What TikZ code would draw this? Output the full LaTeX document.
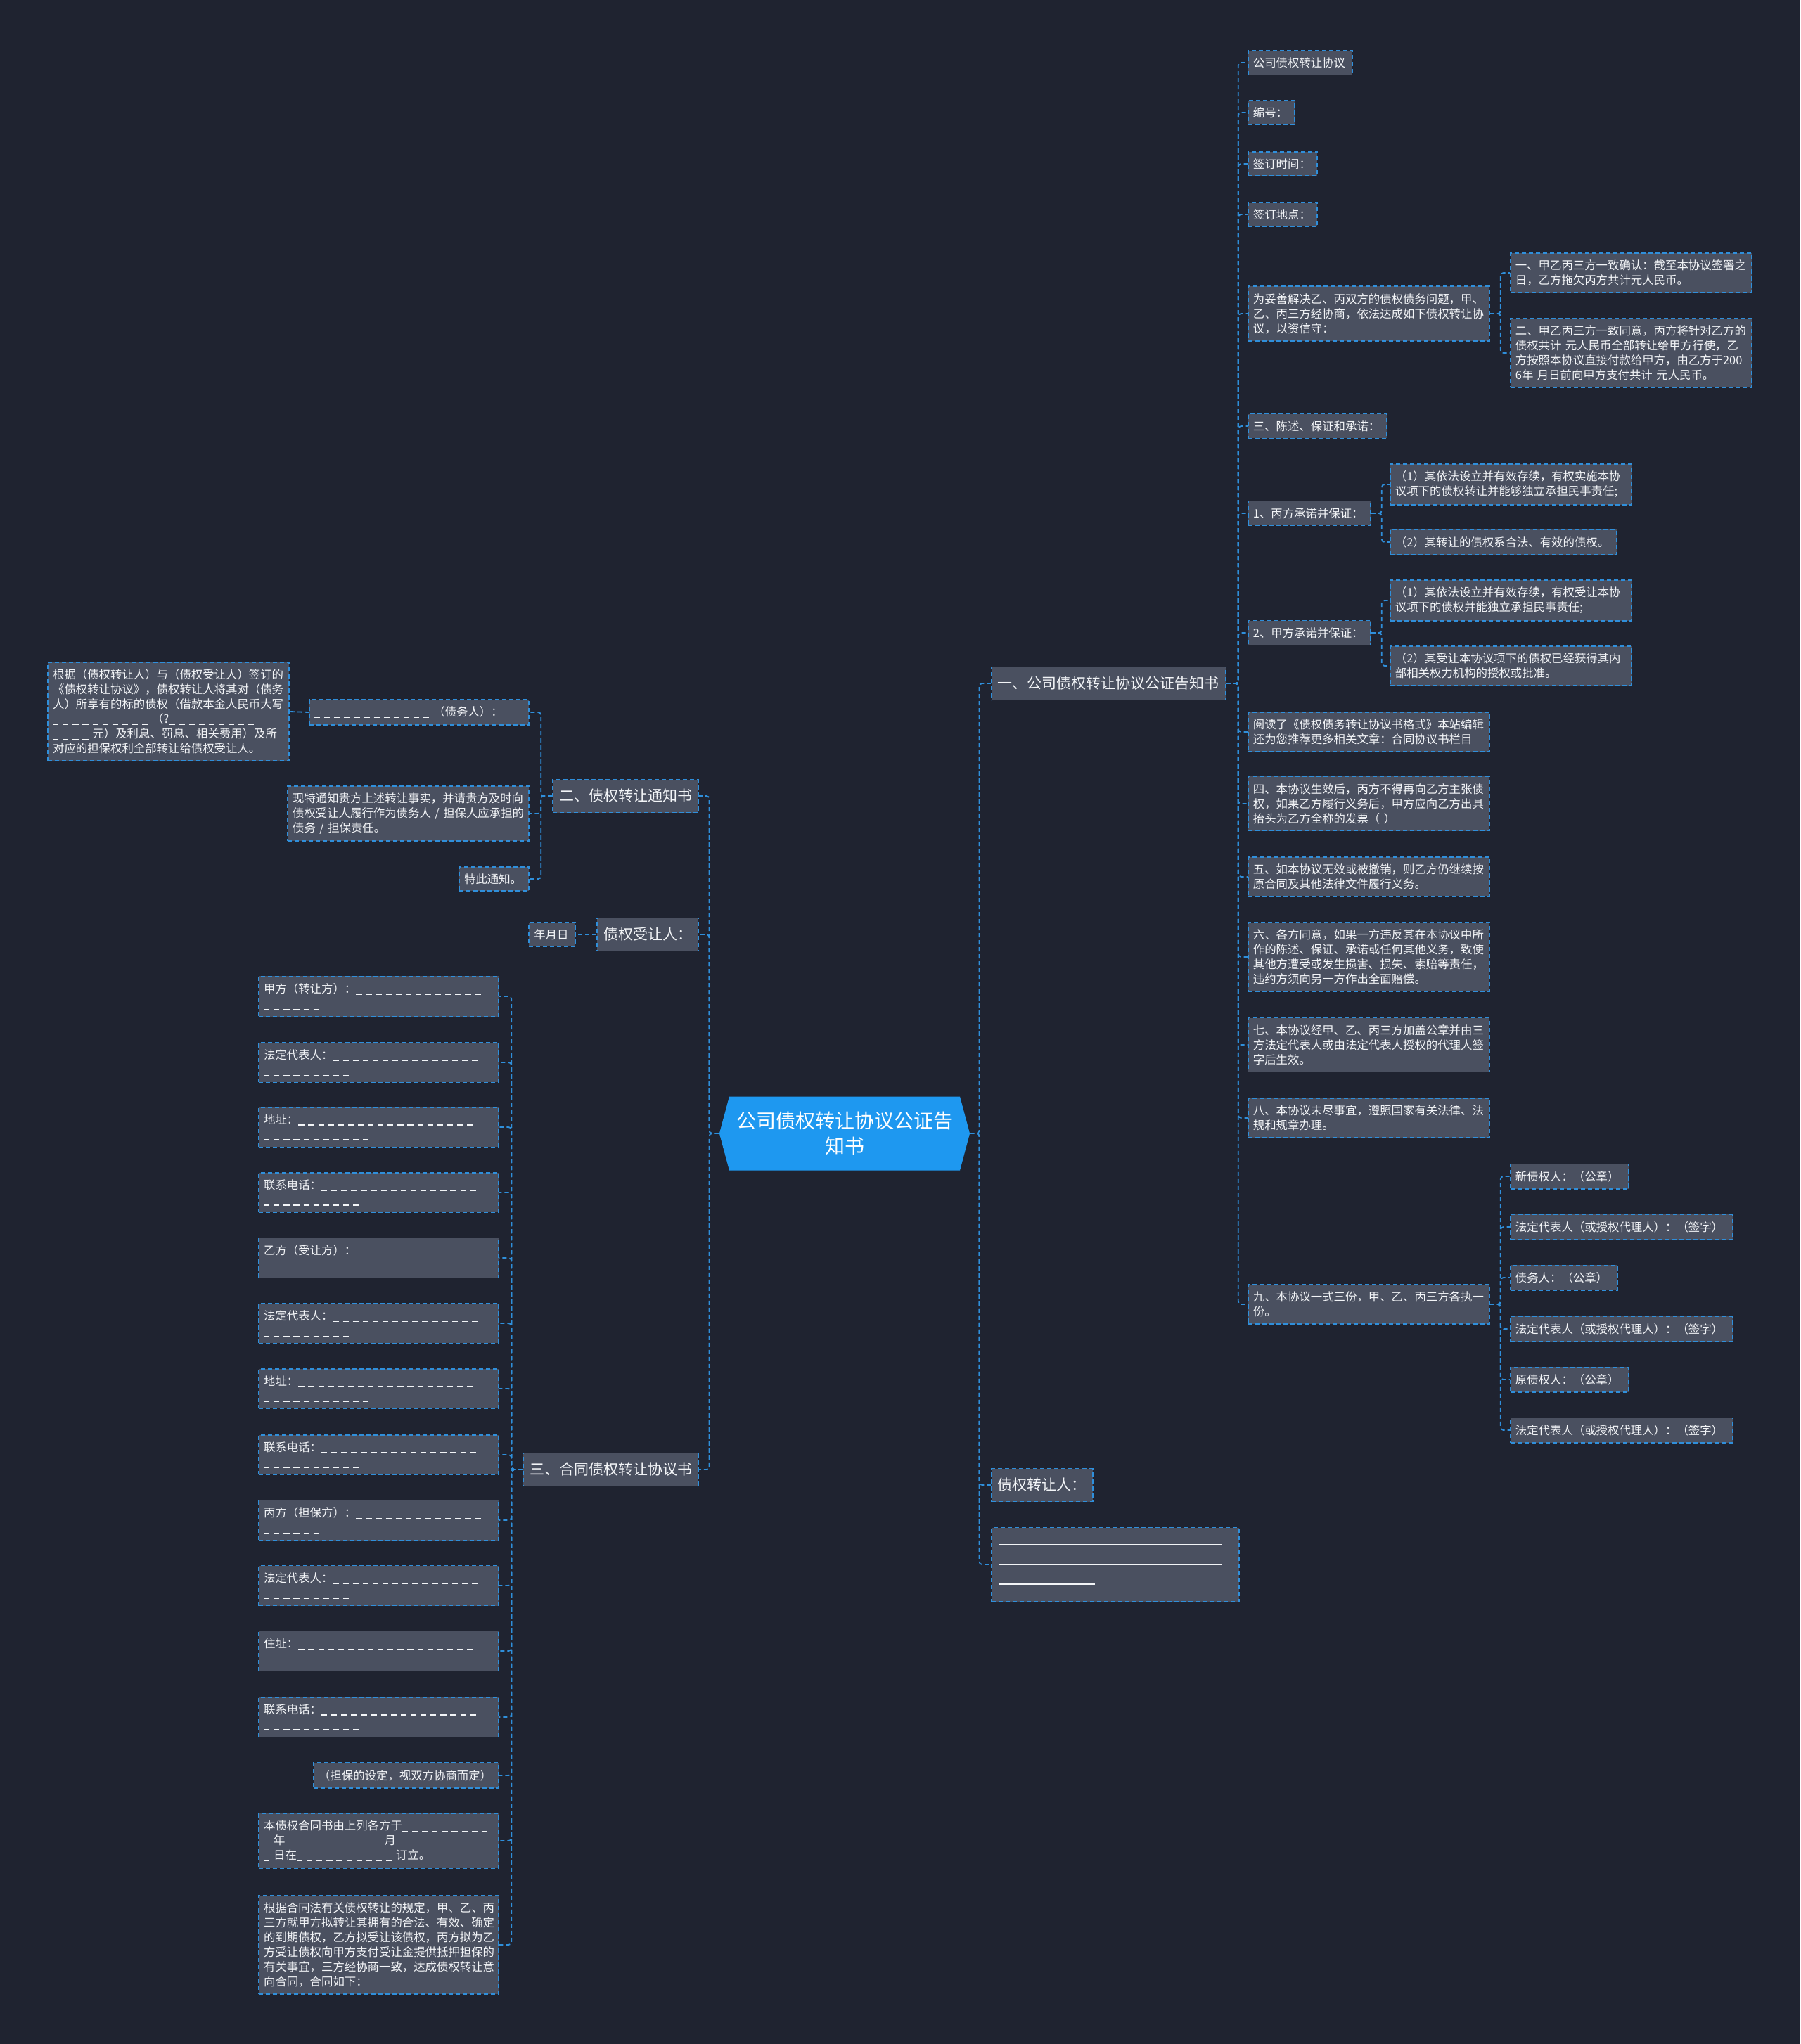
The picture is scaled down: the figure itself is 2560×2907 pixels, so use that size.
\documentclass[tikz,border=0pt]{standalone}
\usepackage{fontspec}
\setmainfont{Noto Sans CJK SC}
\usetikzlibrary{positioning,shapes.symbols}
\definecolor{mapbg}{HTML}{1F2330}
\definecolor{mapbox}{HTML}{4A5060}
\definecolor{mapline}{HTML}{2F8FDB}
\definecolor{maproot}{HTML}{1E98F0}
\definecolor{maptext}{HTML}{F2F4F7}
\newcommand\blanks[1]{\foreach \k in {1,...,#1}{\rule[-0.15em]{0.5em}{0.07em}\hspace{0.36em}}}

\begin{document}
\begin{tikzpicture}[x=0.5pt, y=-0.5pt,
  leaf/.style={draw=mapline, line width=0.9pt, dash pattern=on 3pt off 2pt, fill=mapbox, text=maptext, font=\fontsize{8.2}{10.5}\selectfont, align=left, inner xsep=3.5pt, inner ysep=4.9pt, text width=#1},
  leaf/.default=164.5pt,
  sec/.style={draw=mapline, line width=0.9pt, dash pattern=on 3pt off 2pt, fill=mapbox, text=maptext, font=\fontsize{10.5}{13}\selectfont, inner xsep=4.5pt, minimum height=23.5pt},
  root/.style={signal, signal to=west and east, signal pointer angle=150, fill=maproot, text=white, font=\fontsize{14}{18}\selectfont, align=center, text width=158pt, inner xsep=3pt, inner ysep=9pt, minimum height=52.5pt},
  link/.style={draw=mapline, line width=0.9pt, dash pattern=on 3pt off 2pt, rounded corners=2pt}
]
\fill[mapbg] (0,0) rectangle (2560,2907);
\useasboundingbox (0,0) rectangle (2560,2907);

\node[root] (root) at (1201,1612) {公司债权转让协议公证告\\知书};

% right half
\node[sec, anchor=west] (agree) at (1409,972) {一、公司债权转让协议公证告知书};
\node[sec, anchor=west] (transferor) at (1409,2112) {债权转让人：};
\node[leaf=166pt, anchor=west, inner xsep=5pt, minimum height=52.5pt, font=\fontsize{8}{14}\selectfont] (signline) at (1409,2225) {\rule{159pt}{1.2pt}\\\rule{159pt}{1.2pt}\\\rule{68.5pt}{1.2pt}};

\node[leaf=67pt, anchor=west] (title) at (1774,89) {公司债权转让协议};
\node[leaf=26pt, anchor=west] (serial) at (1774,160) {编号：};
\node[leaf=42pt, anchor=west] (signdate) at (1774,233) {签订时间：};
\node[leaf=42pt, anchor=west] (signplace) at (1774,305) {签订地点：};
\node[leaf, anchor=west] (purpose) at (1774,446) {为妥善解决乙、丙双方的债权债务问题，甲、\\乙、丙三方经协商，依法达成如下债权转让协\\议，以资信守：};
\node[leaf, anchor=west] (confirm) at (2147,388) {一、甲乙丙三方一致确认：截至本协议签署之\\日，乙方拖欠丙方共计元人民币。};
\node[leaf, anchor=west] (consent) at (2147,502) {二、甲乙丙三方一致同意，丙方将针对乙方的\\债权共计 元人民币全部转让给甲方行使，乙\\方按照本协议直接付款给甲方，由乙方于200\\6年 月日前向甲方支付共计 元人民币。};
\node[leaf=91.5pt, anchor=west] (warrant) at (1774,606) {三、陈述、保证和承诺：};
\node[leaf=80pt, anchor=west] (cpromise) at (1774,730) {1、丙方承诺并保证：};
\node[leaf, anchor=west] (cvalid) at (1976,689) {（1）其依法设立并有效存续，有权实施本协\\议项下的债权转让并能够独立承担民事责任;};
\node[leaf=154pt, anchor=west] (clegal) at (1976,771) {（2）其转让的债权系合法、有效的债权。};
\node[leaf=80pt, anchor=west] (apromise) at (1774,900) {2、甲方承诺并保证：};
\node[leaf, anchor=west] (avalid) at (1976,854) {（1）其依法设立并有效存续，有权受让本协\\议项下的债权并能独立承担民事责任;};
\node[leaf, anchor=west] (aauth) at (1976,947) {（2）其受让本协议项下的债权已经获得其内\\部相关权力机构的授权或批准。};
\node[leaf, anchor=west] (readmore) at (1774,1041) {阅读了《债权债务转让协议书格式》本站编辑\\还为您推荐更多相关文章：合同协议书栏目};
\node[leaf, anchor=west] (clauseiv) at (1774,1143) {四、本协议生效后，丙方不得再向乙方主张债\\权，如果乙方履行义务后，甲方应向乙方出具\\抬头为乙方全称的发票（ ）};
\node[leaf, anchor=west] (clausev) at (1774,1247) {五、如本协议无效或被撤销，则乙方仍继续按\\原合同及其他法律文件履行义务。};
\node[leaf, anchor=west] (clausevi) at (1774,1361) {六、各方同意，如果一方违反其在本协议中所\\作的陈述、保证、承诺或任何其他义务，致使\\其他方遭受或发生损害、损失、索赔等责任，\\违约方须向另一方作出全面赔偿。};
\node[leaf, anchor=west] (clausevii) at (1774,1486) {七、本协议经甲、乙、丙三方加盖公章并由三\\方法定代表人或由法定代表人授权的代理人签\\字后生效。};
\node[leaf, anchor=west] (clauseviii) at (1774,1590) {八、本协议未尽事宜，遵照国家有关法律、法\\规和规章办理。};
\node[leaf, anchor=west] (clauseix) at (1774,1855) {九、本协议一式三份，甲、乙、丙三方各执一\\份。};
\node[leaf=77pt, anchor=west] (newcred) at (2147,1673) {新债权人：（公章）};
\node[leaf=151pt, anchor=west] (newrep) at (2147,1745) {法定代表人（或授权代理人）：（签字）};
\node[leaf=69pt, anchor=west] (debtor) at (2147,1817) {债务人：（公章）};
\node[leaf=151pt, anchor=west] (debtrep) at (2147,1890) {法定代表人（或授权代理人）：（签字）};
\node[leaf=77pt, anchor=west] (oldcred) at (2147,1962) {原债权人：（公章）};
\node[leaf=151pt, anchor=west] (oldrep) at (2147,2034) {法定代表人（或授权代理人）：（签字）};

% left half
\node[sec, anchor=east] (notice) at (994,1132) {二、债权转让通知书};
\node[sec, anchor=east] (assignee) at (994,1329) {债权受让人：};
\node[sec, anchor=east] (contract) at (994,2090) {三、合同债权转让协议书};

\node[leaf=149pt, anchor=east] (debtline) at (753,1013) {\blanks{12}（债务人）：};
\node[leaf, anchor=east] (basis) at (412,1012) {根据（债权转让人）与（债权受让人）签订的\\《债权转让协议》，债权转让人将其对（债务\\人）所享有的标的债权（借款本金人民币大写\\\blanks{10}（?\blanks{9}\\\blanks{4}元）及利息、罚息、相关费用）及所\\对应的担保权利全部转让给债权受让人。};
\node[leaf, anchor=east] (notify) at (753,1157) {现特通知贵方上述转让事实，并请贵方及时向\\债权受让人履行作为债务人 / 担保人应承担的\\债务 / 担保责任。};
\node[leaf=42.5pt, anchor=east] (hereby) at (753,1250) {特此通知。};
\node[leaf=26pt, left=14.5pt of assignee] (ymd) {年月日};

\node[leaf=163.5pt, anchor=east] (partya) at (710,1417) {甲方（转让方）：\blanks{13}\\\blanks{6}};
\node[leaf=163.5pt, anchor=east] (repa) at (710,1511) {法定代表人：\blanks{15}\\\blanks{9}};
\node[leaf=163.5pt, anchor=east] (addra) at (710,1603) {地址：\blanks{18}\\\blanks{11}};
\node[leaf=163.5pt, anchor=east] (tela) at (710,1696) {联系电话：\blanks{16}\\\blanks{10}};
\node[leaf=163.5pt, anchor=east] (partyb) at (710,1789) {乙方（受让方）：\blanks{13}\\\blanks{6}};
\node[leaf=163.5pt, anchor=east] (repb) at (710,1882) {法定代表人：\blanks{15}\\\blanks{9}};
\node[leaf=163.5pt, anchor=east] (addrb) at (710,1975) {地址：\blanks{18}\\\blanks{11}};
\node[leaf=163.5pt, anchor=east] (telb) at (710,2069) {联系电话：\blanks{16}\\\blanks{10}};
\node[leaf=163.5pt, anchor=east] (partyc) at (710,2162) {丙方（担保方）：\blanks{13}\\\blanks{6}};
\node[leaf=163.5pt, anchor=east] (repc) at (710,2255) {法定代表人：\blanks{15}\\\blanks{9}};
\node[leaf=163.5pt, anchor=east] (addrc) at (710,2348) {住址：\blanks{18}\\\blanks{11}};
\node[leaf=163.5pt, anchor=east] (telc) at (710,2442) {联系电话：\blanks{16}\\\blanks{10}};
\node[leaf=124.5pt, anchor=east] (guarantee) at (710,2525) {（担保的设定，视双方协商而定）};
\node[leaf=163.5pt, anchor=east] (signed) at (710,2618) {本债权合同书由上列各方于\blanks{9}\\\blanks{1}年\blanks{10}月\blanks{9}\\\blanks{1}日在\blanks{10}订立。};
\node[leaf=163.5pt, anchor=east] (preamble) at (710,2766) {根据合同法有关债权转让的规定，甲、乙、丙\\三方就甲方拟转让其拥有的合法、有效、确定\\的到期债权，乙方拟受让该债权，丙方拟为乙\\方受让债权向甲方支付受让金提供抵押担保的\\有关事宜，三方经协商一致，达成债权转让意\\向合同，合同如下：};

% connectors
\draw[link] (root.east) -- ++(6.5pt,0) |- (agree.west);
\draw[link] (root.east) -- ++(6.5pt,0) |- (transferor.west);
\draw[link] (root.east) -- ++(6.5pt,0) |- (signline.west);
\draw[link] (root.west) -- ++(-7pt,0) |- (notice.east);
\draw[link] (root.west) -- ++(-7pt,0) |- (assignee.east);
\draw[link] (root.west) -- ++(-7pt,0) |- (contract.east);

\draw[link] (agree.east) -- ++(8.5pt,0) |- (title.west);
\draw[link] (agree.east) -- ++(8.5pt,0) |- (serial.west);
\draw[link] (agree.east) -- ++(8.5pt,0) |- (signdate.west);
\draw[link] (agree.east) -- ++(8.5pt,0) |- (signplace.west);
\draw[link] (agree.east) -- ++(8.5pt,0) |- (purpose.west);
\draw[link] (agree.east) -- ++(8.5pt,0) |- (warrant.west);
\draw[link] (agree.east) -- ++(8.5pt,0) |- (cpromise.west);
\draw[link] (agree.east) -- ++(8.5pt,0) |- (apromise.west);
\draw[link] (agree.east) -- ++(8.5pt,0) |- (readmore.west);
\draw[link] (agree.east) -- ++(8.5pt,0) |- (clauseiv.west);
\draw[link] (agree.east) -- ++(8.5pt,0) |- (clausev.west);
\draw[link] (agree.east) -- ++(8.5pt,0) |- (clausevi.west);
\draw[link] (agree.east) -- ++(8.5pt,0) |- (clausevii.west);
\draw[link] (agree.east) -- ++(8.5pt,0) |- (clauseviii.west);
\draw[link] (agree.east) -- ++(8.5pt,0) |- (clauseix.west);

\draw[link] (purpose.east) -- ++(7.5pt,0) |- (confirm.west);
\draw[link] (purpose.east) -- ++(7.5pt,0) |- (consent.west);
\draw[link] (cpromise.east) -- ++(7.5pt,0) |- (cvalid.west);
\draw[link] (cpromise.east) -- ++(7.5pt,0) |- (clegal.west);
\draw[link] (apromise.east) -- ++(7.5pt,0) |- (avalid.west);
\draw[link] (apromise.east) -- ++(7.5pt,0) |- (aauth.west);

\draw[link] (clauseix.east) -- ++(7.5pt,0) |- (newcred.west);
\draw[link] (clauseix.east) -- ++(7.5pt,0) |- (newrep.west);
\draw[link] (clauseix.east) -- ++(7.5pt,0) |- (debtor.west);
\draw[link] (clauseix.east) -- ++(7.5pt,0) |- (debtrep.west);
\draw[link] (clauseix.east) -- ++(7.5pt,0) |- (oldcred.west);
\draw[link] (clauseix.east) -- ++(7.5pt,0) |- (oldrep.west);

\draw[link] (notice.west) -- ++(-8pt,0) |- (debtline.east);
\draw[link] (notice.west) -- ++(-8pt,0) |- (notify.east);
\draw[link] (notice.west) -- ++(-8pt,0) |- (hereby.east);
\draw[link] (debtline.west) -- (basis.east);
\draw[link] (assignee.west) -- (ymd.east);

\draw[link] (contract.west) -- ++(-8pt,0) |- (partya.east);
\draw[link] (contract.west) -- ++(-8pt,0) |- (repa.east);
\draw[link] (contract.west) -- ++(-8pt,0) |- (addra.east);
\draw[link] (contract.west) -- ++(-8pt,0) |- (tela.east);
\draw[link] (contract.west) -- ++(-8pt,0) |- (partyb.east);
\draw[link] (contract.west) -- ++(-8pt,0) |- (repb.east);
\draw[link] (contract.west) -- ++(-8pt,0) |- (addrb.east);
\draw[link] (contract.west) -- ++(-8pt,0) |- (telb.east);
\draw[link] (contract.west) -- ++(-8pt,0) |- (partyc.east);
\draw[link] (contract.west) -- ++(-8pt,0) |- (repc.east);
\draw[link] (contract.west) -- ++(-8pt,0) |- (addrc.east);
\draw[link] (contract.west) -- ++(-8pt,0) |- (telc.east);
\draw[link] (contract.west) -- ++(-8pt,0) |- (guarantee.east);
\draw[link] (contract.west) -- ++(-8pt,0) |- (signed.east);
\draw[link] (contract.west) -- ++(-8pt,0) |- (preamble.east);
\end{tikzpicture}
\end{document}
